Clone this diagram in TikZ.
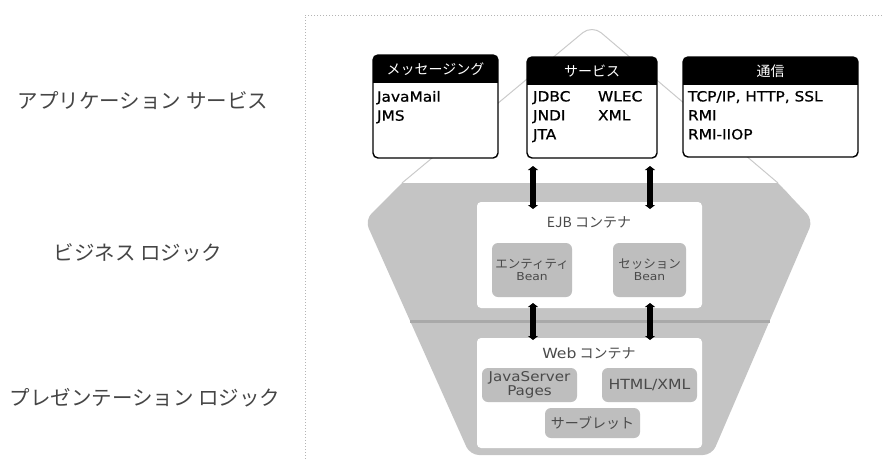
\documentclass[tikz,border=0pt]{standalone}
\usepackage{fontspec}
\setmainfont{DejaVu Sans}
\newfontfamily\jp{Noto Sans CJK JP}
\newfontfamily\lat[FakeStretch=1.12]{DejaVu Sans}
\newfontfamily\latb[FakeStretch=1.1,FakeBold=0.8]{DejaVu Sans}
\usetikzlibrary{arrows.meta}
\definecolor{tiergray}{HTML}{C4C4C4}
\definecolor{beangray}{HTML}{BEBEBE}
\definecolor{sepgray}{HTML}{A9A9A9}
\definecolor{outlinegray}{HTML}{CACACA}
\definecolor{framegray}{HTML}{B4B4B4}
\definecolor{labelgray}{HTML}{454545}
\definecolor{smalltext}{HTML}{4A4A4A}
\tikzset{
  every node/.style={outer sep=0pt},
  sidelabel/.style={font=\jp\fontsize{20.5}{24}\selectfont, text=labelgray, inner sep=0pt},
  topbox/.style={fill=white, anchor=north west, inner sep=0pt},
  hdrtext/.style={font=\jp\fontsize{14}{16}\selectfont, text=white, inner sep=0pt},
  bodytext/.style={font=\latb\fontsize{14}{19}\selectfont, text=black, anchor=north west, align=left, inner sep=0pt},
  container/.style={fill=white, rounded corners=4pt, anchor=north west, inner sep=0pt},
  ctitle/.style={font=\jp\fontsize{14}{16}\selectfont, text=smalltext, inner sep=0pt},
  bean/.style={fill=beangray, rounded corners=6pt, inner sep=0pt, align=center, text=smalltext},
  biarrow/.style={line width=6pt, {Triangle[length=4pt,width=10pt]}-{Triangle[length=4pt,width=10pt]}}
}
\begin{document}
\begin{tikzpicture}[x=1pt,y=-1pt]
\useasboundingbox (0,0) rectangle (882,459);
% frame
\draw[framegray, dotted, line width=1pt] (882,15) -- (305,15) -- (305,459);
% application-services triangle
\draw[outlinegray, line width=1pt, rounded corners=12pt] (402,183) -- (592,25) -- (778,183);
% business / presentation tier shape
\fill[tiergray, rounded corners=9pt] (402,183) -- (778,183) -- (813,220) -- (712,455) -- (470,455) -- (365,220) -- cycle;
\fill[tiergray] (402,183) -- (778,183) -- (789.4,195) -- (390.5,195) -- cycle;
\draw[sepgray, line width=3pt] (410,321) -- (770,321);
% side labels
\node[sidelabel] (app) at (143,101) {アプリケーション サービス};
\node[sidelabel] (biz) at (138,253) {ビジネス ロジック};
\node[sidelabel] (pres) at (145,398) {プレゼンテーション ロジック};
% top boxes
\node[topbox, minimum width=125pt, minimum height=103pt] (msg) at (373,55) {};
\node[topbox, minimum width=130pt, minimum height=101pt] (svc) at (527,57) {};
\node[topbox, minimum width=175pt, minimum height=100pt] (com) at (683,57) {};
\foreach \b in {msg,svc,com}{
  \begin{scope}
    \clip[rounded corners=5pt] (\b.north west) rectangle (\b.south east);
    \fill[black] (\b.north west) rectangle ([yshift=-28pt]\b.north east);
  \end{scope}
  \draw[black, line width=1.4pt, rounded corners=5pt] (\b.north west) rectangle (\b.south east);
}
\node[hdrtext] (msgh) at ([yshift=-14pt]msg.north) {メッセージング};
\node[hdrtext] (svch) at ([yshift=-14pt]svc.north) {サービス};
\node[hdrtext] (comh) at ([yshift=-14pt]com.north) {通信};
\node[bodytext] (msgb) at (377,91) {JavaMail\\JMS};
\node[bodytext] (svcb1) at (533,91) {JDBC\\JNDI\\JTA};
\node[bodytext] (svcb2) at (598,91) {WLEC\\XML};
\node[bodytext] (comb) at (688,91) {TCP/IP, HTTP, SSL\\RMI\\RMI-IIOP};
% EJB container
\node[container, minimum width=225pt, minimum height=106pt] (ejb) at (477,202) {};
\node[ctitle] (ejbt) at (589,222) {EJB コンテナ};
\node[bean, minimum width=80pt, minimum height=54pt] (ent) at (532,270) {{\jp\fontsize{12.5}{15}\selectfont エンティティ}\\{\lat\fontsize{11}{14}\selectfont Bean}};
\node[bean, minimum width=73pt, minimum height=54pt] (ses) at (649.5,270) {{\jp\fontsize{12.5}{15}\selectfont セッション}\\{\lat\fontsize{11}{14}\selectfont Bean}};
% Web container
\node[container, minimum width=225pt, minimum height=110pt] (web) at (477,338) {};
\node[ctitle] (webt) at (589,353) {{\lat Web} コンテナ};
\node[bean, minimum width=95pt, minimum height=34pt, font=\lat\fontsize{13.5}{14}\selectfont] (jsp) at (529.5,385) {JavaServer\\Pages};
\node[bean, minimum width=95pt, minimum height=34pt, font=\lat\fontsize{14}{15}\selectfont] (html) at (649.5,385) {HTML/XML};
\node[bean, minimum width=95pt, minimum height=30pt, font=\jp\fontsize{14}{16}\selectfont] (srv) at (592.5,423) {サーブレット};
% arrows
\draw[biarrow] ([shift={(6,8)}]svc.south west) -- ([shift={(56,7)}]ejb.north west);
\draw[biarrow] ([shift={(-7,8)}]svc.south east) -- ([shift={(173,7)}]ejb.north west);
\draw[biarrow] ([shift={(56,-5)}]ejb.south west) -- ([shift={(56,2)}]web.north west);
\draw[biarrow] ([shift={(173,-5)}]ejb.south west) -- ([shift={(173,2)}]web.north west);
\end{tikzpicture}
\end{document}
